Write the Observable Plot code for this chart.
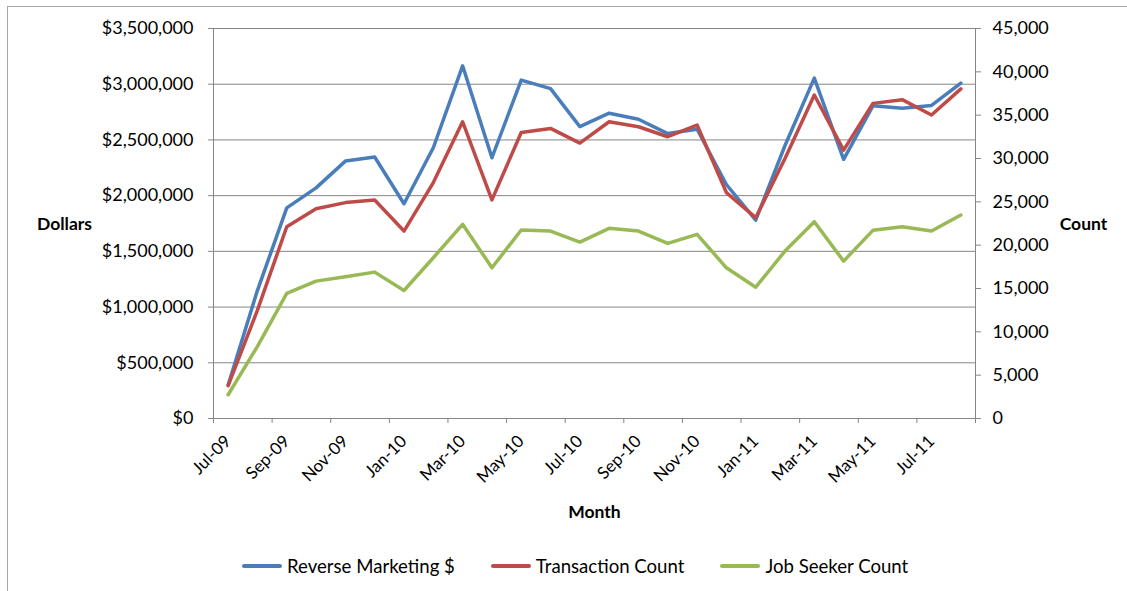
<!DOCTYPE html>
<html>
<head>
<meta charset="utf-8">
<script src="https://cdn.jsdelivr.net/npm/d3@7"></script>
<script src="https://cdn.jsdelivr.net/npm/@observablehq/plot@0.6"></script>
<style>
  html, body { margin: 0; padding: 0; background: #fff; overflow: hidden; }
  body { width: 1127px; height: 591px; position: relative; font-family: Lato, "Liberation Sans", sans-serif; }
  #frame { position: absolute; left: 7px; top: 6px; right: -3px; bottom: -3px; border: 1px solid #a6a6a6; pointer-events: none; }
  #chart { position: absolute; left: 0; top: 0; }
  #legend { position: absolute; left: 242px; top: 555px; display: flex; gap: 36px; font-size: 18.6px; color: #000; }
  .item { display: flex; align-items: center; gap: 5px; }
  .sw { width: 40px; height: 4px; border-radius: 2px; }
</style>
</head>
<body>
<div id="chart"></div>
<div id="legend"></div>
<div id="frame"></div>
<script>
const months = ["Jul-09","Aug-09","Sep-09","Oct-09","Nov-09","Dec-09","Jan-10","Feb-10","Mar-10","Apr-10","May-10","Jun-10","Jul-10","Aug-10","Sep-10","Oct-10","Nov-10","Dec-10","Jan-11","Feb-11","Mar-11","Apr-11","May-11","Jun-11","Jul-11","Aug-11"];
const reverseMarketing = [300000,1150000,1890000,2070000,2310000,2347000,1927000,2430000,3165000,2340000,3037000,2960000,2620000,2740000,2686000,2557000,2596000,2100000,1780000,2450000,3055000,2326000,2806000,2785000,2810000,3010000];
const transactionCount = [3800,12500,22130,24210,24910,25220,21630,27220,34240,25220,33000,33470,31780,34240,33660,32510,33860,26070,23170,30000,37330,30970,36360,36790,35020,38030];
const jobSeekerCount = [2740,8330,14430,15850,16350,16890,14770,18550,22410,17390,21750,21630,20360,21940,21630,20210,21250,17390,15150,19320,22710,18160,21710,22130,21630,23480];
const dollarTicks = [0,500000,1000000,1500000,2000000,2500000,3000000,3500000];
const countTicks = [0,5000,10000,15000,20000,25000,30000,35000,40000,45000];
const seriesNames = ["Reverse Marketing $","Transaction Count","Job Seeker Count"];
const seriesColors = ["#4A7EBB","#BE4B48","#98B954"];

const k = 3500000 / 45000; // count -> dollar axis
const rows = [];
months.forEach((m, i) => {
  rows.push({i, s: seriesNames[0], v: reverseMarketing[i]});
  rows.push({i, s: seriesNames[1], v: transactionCount[i] * k});
  rows.push({i, s: seriesNames[2], v: jobSeekerCount[i] * k});
});
const boundaries = d3.range(-0.5, months.length, 1).filter((d, j) => j % 2 === 0).concat([months.length - 0.5]);
const labelIdx = d3.range(0, months.length, 2);
const grid = "#868686";

const plot = Plot.plot({
  width: 1127,
  height: 540,
  marginLeft: 213,
  marginRight: 152,
  marginTop: 28,
  marginBottom: 122,
  style: {fontFamily: "Lato, 'Liberation Sans', sans-serif", fontSize: "18px", color: "#000", background: "transparent"},
  x: {type: "linear", domain: [-0.5, months.length - 0.5]},
  y: {domain: [0, 3500000]},
  color: {domain: seriesNames, range: seriesColors},
  marks: [
    Plot.ruleY(dollarTicks, {stroke: grid, strokeWidth: 1}),
    Plot.ruleX([-0.5, months.length - 0.5], {stroke: grid, strokeWidth: 1}),
    Plot.axisY(dollarTicks, {anchor: "left", tickSize: 5, tickPadding: 15, stroke: grid, fontSize: 18, tickFormat: d3.format("$,"), label: null}),
    Plot.axisY(countTicks.map(c => c * k), {anchor: "right", tickSize: 5, tickPadding: 12, stroke: grid, fontSize: 18, tickFormat: d => d3.format(",")(Math.round(d / k)), label: null}),
    Plot.axisX(boundaries, {anchor: "bottom", tickSize: 5, stroke: grid, tickFormat: () => "", label: null}),
    Plot.axisX(labelIdx, {anchor: "bottom", tickSize: 0, tickPadding: 20, tickRotate: -45, fontSize: 17, tickFormat: i => months[i], label: null}),
    Plot.line(rows, {x: "i", y: "v", z: "s", stroke: "s", strokeWidth: 3.5, strokeLinejoin: "round", strokeLinecap: "round"}),
    Plot.text(["Dollars"], {frameAnchor: "left", dx: -149, dy: 1, textAnchor: "middle", text: d => d, fontWeight: "bold", fontSize: 17.5}),
    Plot.text(["Count"], {frameAnchor: "right", dx: 108, dy: 1, textAnchor: "middle", text: d => d, fontWeight: "bold", fontSize: 17.5}),
    Plot.text(["Month"], {frameAnchor: "bottom", dy: 99, textAnchor: "middle", text: d => d, fontWeight: "bold", fontSize: 17.5})
  ]
});
document.getElementById("chart").appendChild(plot);

const legend = document.getElementById("legend");
seriesNames.forEach((n, j) => {
  const it = document.createElement("div");
  it.className = "item";
  const sw = document.createElement("div");
  sw.className = "sw";
  sw.style.background = seriesColors[j];
  const t = document.createElement("span");
  t.textContent = n;
  it.appendChild(sw);
  it.appendChild(t);
  legend.appendChild(it);
});
</script>
</body>
</html>
